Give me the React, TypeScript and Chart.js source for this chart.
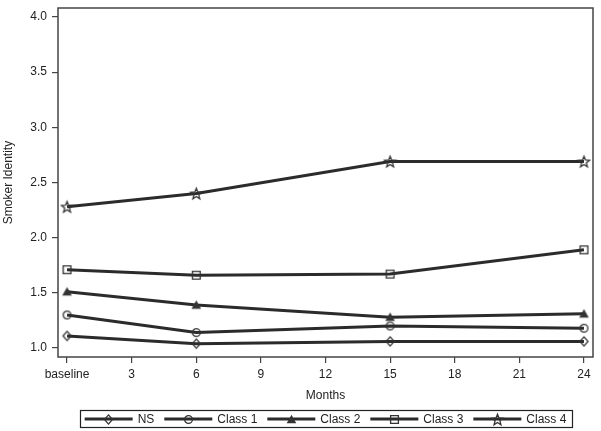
import React, { useEffect, useRef } from 'react';
import { Chart, registerables } from 'chart.js';
Chart.register(...registerables);

const months = [0, 6, 15, 24];
const xTicks = [0, 3, 6, 9, 12, 15, 18, 21, 24];
const yTicks = [1.0, 1.5, 2.0, 2.5, 3.0, 3.5, 4.0];
const seriesNames = ['NS', 'Class 1', 'Class 2', 'Class 3', 'Class 4'];
const nsValues = [1.11, 1.04, 1.06, 1.06];
const class1Values = [1.3, 1.14, 1.2, 1.18];
const class2Values = [1.51, 1.39, 1.28, 1.31];
const class3Values = [1.71, 1.66, 1.67, 1.89];
const class4Values = [2.28, 2.4, 2.69, 2.69];
const markerKinds = ['diamond', 'circle', 'triangle', 'square', 'star'];

const FONT = '"Liberation Sans", Arial, sans-serif';
const INK = '#222';
const LINE = '#2b2b2b';

function makeMarker(kind: string): HTMLCanvasElement {
  const s = 15;
  const c = document.createElement('canvas');
  c.width = s;
  c.height = s;
  const g = c.getContext('2d')!;
  const m = s / 2;
  g.strokeStyle = '#333';
  g.fillStyle = '#333';
  g.lineWidth = 1.3;
  g.beginPath();
  if (kind === 'diamond') {
    g.moveTo(m, m - 4.6);
    g.lineTo(m + 4, m);
    g.lineTo(m, m + 4.6);
    g.lineTo(m - 4, m);
    g.closePath();
    g.stroke();
  } else if (kind === 'circle') {
    g.arc(m, m, 3.9, 0, Math.PI * 2);
    g.stroke();
  } else if (kind === 'triangle') {
    g.moveTo(m, m - 4.8);
    g.lineTo(m + 4.8, m + 3.8);
    g.lineTo(m - 4.8, m + 3.8);
    g.closePath();
    g.fill();
  } else if (kind === 'square') {
    g.rect(m - 3.9, m - 3.9, 7.8, 7.8);
    g.stroke();
  } else if (kind === 'star') {
    const ro = 5.8, ri = 2.5;
    for (let i = 0; i < 10; i++) {
      const r = i % 2 === 0 ? ro : ri;
      const a = -Math.PI / 2 + (i * Math.PI) / 5;
      const px = m + r * Math.cos(a);
      const py = m + 0.5 + r * Math.sin(a);
      if (i === 0) g.moveTo(px, py);
      else g.lineTo(px, py);
    }
    g.closePath();
    g.stroke();
  }
  return c;
}

const frameAndLegend = {
  id: 'frameAndLegend',
  afterDraw(chart: any) {
    const ctx = chart.ctx as CanvasRenderingContext2D;
    const ca = chart.chartArea;
    ctx.save();
    ctx.strokeStyle = '#444';
    ctx.lineWidth = 1.5;
    ctx.strokeRect(ca.left, ca.top, ca.right - ca.left, ca.bottom - ca.top);

    // legend
    ctx.font = '12px ' + FONT;
    const L = 48, g1 = 5, g2 = 10, pad = 5;
    const ds = chart.data.datasets;
    const widths = ds.map((d: any) => ctx.measureText(d.label).width);
    const total = pad * 2 + widths.reduce((a: number, w: number) => a + L + g1 + w, 0) + g2 * (ds.length - 1);
    let x = (ca.left + ca.right) / 2 - total / 2;
    const top = ca.bottom + 53.5;
    const h = 17;
    const cy = top + h / 2;
    ctx.lineWidth = 1.2;
    ctx.strokeStyle = '#222';
    ctx.strokeRect(Math.round(x) + 0.5, top, Math.round(total), h);
    x += pad;
    ds.forEach((d: any, i: number) => {
      ctx.strokeStyle = LINE;
      ctx.lineWidth = 3;
      ctx.beginPath();
      ctx.moveTo(x, cy);
      ctx.lineTo(x + L, cy);
      ctx.stroke();
      const img = d.pointStyle as HTMLCanvasElement;
      ctx.drawImage(img, Math.round(x + L / 2 - img.width / 2), Math.round(cy - img.height / 2));
      ctx.fillStyle = INK;
      ctx.textBaseline = 'middle';
      ctx.textAlign = 'left';
      ctx.fillText(d.label, x + L + g1, cy + 0.5);
      x += L + g1 + widths[i] + g2;
    });
    ctx.restore();
  },
};

function zeroPad(s: any) {
  s.paddingTop = 0;
  s.paddingBottom = 0;
  s.paddingLeft = 0;
  s.paddingRight = 0;
}

export default function App() {
  const ref = useRef<HTMLCanvasElement>(null);
  useEffect(() => {
    const values = [nsValues, class1Values, class2Values, class3Values, class4Values];
    const datasets = seriesNames.map((name, i) => ({
      label: name,
      data: months.map((m, j) => ({ x: m, y: values[i][j] })),
      borderColor: LINE,
      borderWidth: 3,
      pointStyle: makeMarker(markerKinds[i]),
      pointRadius: 5,
      backgroundColor: 'transparent',
      tension: 0,
    }));
    const chart = new Chart(ref.current!, {
      type: 'line',
      data: { datasets },
      plugins: [frameAndLegend],
      options: {
        responsive: false,
        animation: false,
        layout: { padding: { left: 0, right: 5, top: 6, bottom: 0 } },
        plugins: { legend: { display: false }, tooltip: { enabled: false } },
        scales: {
          x: {
            type: 'linear',
            min: -0.42,
            max: 24.42,
            afterFit: (s: any) => { s.height = 74; zeroPad(s); },
            afterBuildTicks: (s: any) => { s.ticks = xTicks.map((v) => ({ value: v })); },
            ticks: {
              color: INK,
              font: { family: FONT, size: 12 },
              padding: 4,
              maxRotation: 0,
              autoSkip: false,
              callback: (v: any) => (v === 0 ? 'baseline' : String(v)),
            },
            grid: { display: true, drawOnChartArea: false, drawTicks: true, tickLength: 6, color: '#444', lineWidth: 1.2 },
            border: { display: false },
            title: { display: true, text: 'Months', color: INK, font: { family: FONT, size: 12 }, padding: { top: 0, bottom: 28 } },
          },
          y: {
            type: 'linear',
            min: 0.919,
            max: 4.081,
            afterFit: (s: any) => { s.width = 58; zeroPad(s); },
            afterBuildTicks: (s: any) => { s.ticks = yTicks.map((v) => ({ value: v })); },
            ticks: {
              color: INK,
              font: { family: FONT, size: 12 },
              padding: 5,
              autoSkip: false,
              callback: (v: any) => Number(v).toFixed(1),
            },
            grid: { display: true, drawOnChartArea: false, drawTicks: true, tickLength: 6, color: '#444', lineWidth: 1.2 },
            border: { display: false },
            title: { display: true, text: 'Smoker Identity', color: INK, font: { family: FONT, size: 12 }, padding: { top: 1, bottom: 0 } },
          },
        },
      },
    });
    return () => chart.destroy();
  }, []);
  return (
    <div style={{ position: 'fixed', left: 0, top: 0, width: 601, height: 431, background: '#fff' }}>
      <canvas ref={ref} width={601} height={431} style={{ display: 'block' }} />
    </div>
  );
}
